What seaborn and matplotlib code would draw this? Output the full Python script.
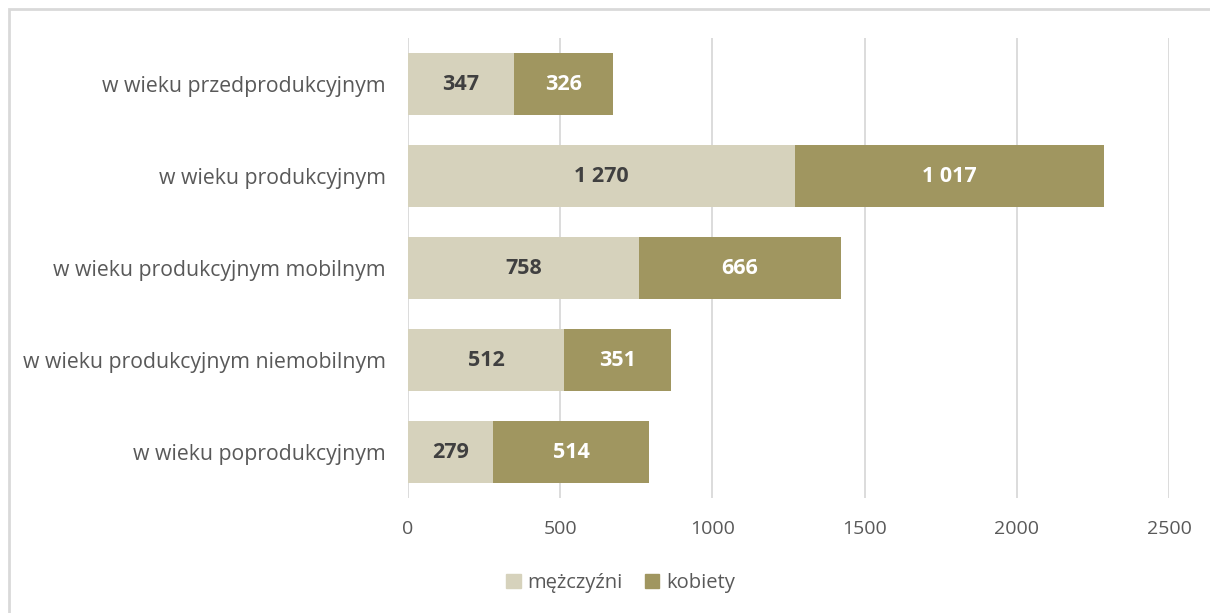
import pandas as pd
import matplotlib
matplotlib.use('Agg')
import matplotlib.pyplot as plt
import seaborn as sns
from matplotlib.patches import Rectangle, Patch

grupy = ['w wieku przedprodukcyjnym', 'w wieku produkcyjnym',
         'w wieku produkcyjnym mobilnym', 'w wieku produkcyjnym niemobilnym',
         'w wieku poprodukcyjnym']
mezczyzni = [347, 1270, 758, 512, 279]
kobiety = [326, 1017, 666, 351, 514]

kol_m = '#D6D2BC'
kol_k = '#A09660'

sns.set_style('white')
plt.rcParams['font.family'] = ['Open Sans', 'DejaVu Sans']

df = pd.DataFrame({'grupa': grupy, 'mezczyzni': mezczyzni, 'kobiety': kobiety})
df['razem'] = df['mezczyzni'] + df['kobiety']

fig = plt.figure(figsize=(12.1, 6.13), dpi=100)
ax = fig.add_axes([0.3372, 0.1876, 0.6289, 0.7504])

for x in range(0, 2501, 500):
    ax.axvline(x, color='#D9D9D9', lw=1.3, zorder=0)

# stos: najpierw suma (kobiety), na wierzch mezczyzni
sns.barplot(data=df, y='grupa', x='razem', color=kol_k, orient='h', width=0.67,
            saturation=1, linewidth=0, ax=ax, zorder=2)
sns.barplot(data=df, y='grupa', x='mezczyzni', color=kol_m, orient='h', width=0.67,
            saturation=1, linewidth=0, ax=ax, zorder=3)

def fmt(v):
    return f'{v:,}'.replace(',', ' ')

for i, (m, k) in enumerate(zip(mezczyzni, kobiety)):
    ax.text(m / 2, i, fmt(m), ha='center', va='center', color='#404040',
            fontsize=15.5, fontweight='bold', zorder=4)
    ax.text(m + k / 2, i, fmt(k), ha='center', va='center', color='white',
            fontsize=15.5, fontweight='bold', zorder=4)

ax.set_xlim(0, 2500)
ax.set_ylim(4.5, -0.5)
ax.set_xticks(range(0, 2501, 500))
ax.tick_params(axis='x', labelsize=14, labelcolor='#595959', length=0, pad=16)
ax.tick_params(axis='y', labelsize=15.3, labelcolor='#595959', length=0, pad=16)
ax.set_xlabel('')
ax.set_ylabel('')
for s in ax.spines.values():
    s.set_visible(False)

uchwyty = [Patch(color=kol_m, label='mężczyźni'), Patch(color=kol_k, label='kobiety')]
fig.legend(handles=uchwyty, loc='center', bbox_to_anchor=(0.513, 0.049), ncol=2,
           frameon=False, fontsize=14.5, handlelength=0.7, handleheight=0.7,
           handletextpad=0.35, columnspacing=1.1, labelcolor='#595959')

fig.patches.append(Rectangle((9 / 1210, -0.01), 1.02, 1 - 9 / 613 + 0.01,
                             transform=fig.transFigure, fill=False,
                             edgecolor='#D9D9D9', lw=2))

fig.savefig('out.png', dpi=100)
plt.close(fig)
